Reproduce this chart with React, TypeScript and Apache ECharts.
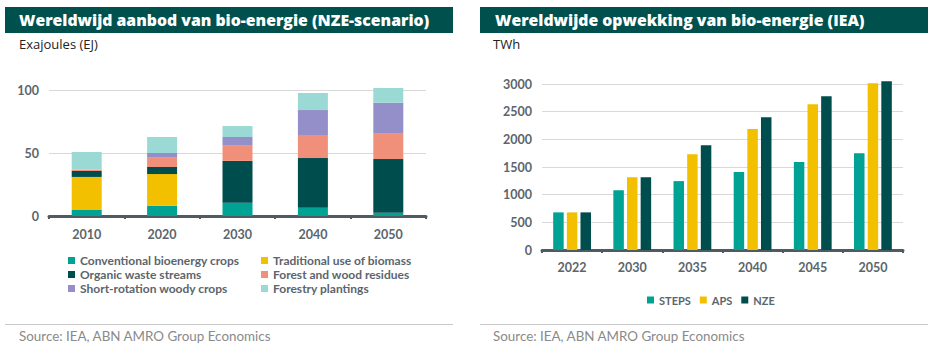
import React, { useEffect, useRef } from "react";
import * as echarts from "echarts";

const supplyYears = ["2010", "2020", "2030", "2040", "2050"];
const conventionalCrops = [4.8, 8.2, 10.6, 6.6, 2.6];
const traditionalBiomass = [26.2, 25.1, 0, 0, 0];
const organicWaste = [4.7, 5.6, 33.1, 39.4, 42.6];
const forestResidues = [1.1, 7.4, 12.1, 18.3, 20.1];
const shortRotation = [0, 3.7, 6.9, 19.8, 24.6];
const forestryPlantings = [14.0, 12.7, 8.7, 13.5, 11.7];
const supplyTicks = [0, 50, 100];

const genYears = ["2022", "2030", "2035", "2040", "2045", "2050"];
const steps = [680, 1080, 1245, 1410, 1590, 1750];
const aps = [680, 1315, 1730, 2185, 2635, 3015];
const nze = [680, 1315, 1895, 2400, 2780, 3050];

const C_TEAL = "#00A294";
const C_YELLOW = "#F3C000";
const C_DARK = "#004D4D";
const C_SALMON = "#F0907A";
const C_PURPLE = "#948FC8";
const C_LIGHT = "#9BDAD4";
const HEADER = "#00504E";
const AXIS = "#4F5B62";
const LABEL = "#5B656C";
const FONT = "Lato, 'Open Sans', sans-serif";
const OPEN = "'Open Sans', sans-serif";

export default function App() {
  const ref = useRef<HTMLDivElement>(null);
  useEffect(() => {
    if (!ref.current) return;
    const chart = echarts.init(ref.current, null, { renderer: "svg" });
    const axisLabel = { color: LABEL, fontFamily: FONT, fontWeight: "bold", fontSize: 12.5 };
    const xAxisCommon = {
      type: "category",
      axisLine: { lineStyle: { color: AXIS, width: 3 } },
      axisTick: { show: true, length: 3, lineStyle: { color: AXIS, width: 2 } },
      splitLine: { show: false },
    };
    const yAxisCommon = {
      type: "value",
      axisLine: { show: false },
      axisTick: { show: false },
      splitLine: { lineStyle: { color: "#D9D9D9", width: 1 } },
    };
    const leftSeries = [
      ["Conventional bioenergy crops", conventionalCrops, C_TEAL],
      ["Traditional use of biomass", traditionalBiomass, C_YELLOW],
      ["Organic waste streams", organicWaste, C_DARK],
      ["Forest and wood residues", forestResidues, C_SALMON],
      ["Short-rotation woody crops", shortRotation, C_PURPLE],
      ["Forestry plantings", forestryPlantings, C_LIGHT],
    ].map(([name, data, color]) => ({
      name,
      type: "bar",
      stack: "supply",
      xAxisIndex: 0,
      yAxisIndex: 0,
      barWidth: 30,
      clip: false,
      data,
      itemStyle: { color },
    }));
    const rightSeries = [
      ["STEPS", steps, C_TEAL],
      ["APS", aps, C_YELLOW],
      ["NZE", nze, C_DARK],
    ].map(([name, data, color]) => ({
      name,
      type: "bar",
      xAxisIndex: 1,
      yAxisIndex: 1,
      barWidth: 10.5,
      barGap: "30%",
      clip: false,
      data,
      itemStyle: { color },
    }));
    const legendText = { color: LABEL, fontFamily: FONT, fontWeight: "bold", fontSize: 12, lineHeight: 12 };
    const plain = (v: number) => String(v);
    chart.setOption({
      animation: false,
      textStyle: { fontFamily: FONT },
      grid: [
        { left: 49, right: 513, top: 90, bottom: 135 },
        { left: 542, right: 36, top: 84, bottom: 101 },
      ],
      xAxis: [
        { ...xAxisCommon, gridIndex: 0, data: supplyYears, axisLabel: { ...axisLabel, margin: 12 } },
        { ...xAxisCommon, gridIndex: 1, data: genYears, axisLabel: { ...axisLabel, margin: 11 } },
      ],
      yAxis: [
        {
          ...yAxisCommon,
          gridIndex: 0,
          min: supplyTicks[0],
          max: supplyTicks[supplyTicks.length - 1],
          interval: 50,
          axisLabel: { ...axisLabel, margin: 10, formatter: plain },
        },
        {
          ...yAxisCommon,
          gridIndex: 1,
          min: 0,
          max: 3000,
          interval: 500,
          axisLabel: { ...axisLabel, margin: 10, formatter: plain },
        },
      ],
      legend: [
        {
          orient: "vertical",
          left: 63,
          top: 249.5,
          itemWidth: 7,
          itemHeight: 7,
          itemGap: 2,
          icon: "rect",
          textStyle: legendText,
          data: ["Conventional bioenergy crops", "Organic waste streams", "Short-rotation woody crops"],
        },
        {
          orient: "vertical",
          left: 256,
          top: 249.5,
          itemWidth: 7,
          itemHeight: 7,
          itemGap: 2,
          icon: "rect",
          textStyle: legendText,
          data: ["Traditional use of biomass", "Forest and wood residues", "Forestry plantings"],
        },
        {
          orient: "horizontal",
          left: 642,
          top: 289,
          itemWidth: 7,
          itemHeight: 7,
          itemGap: 9,
          icon: "rect",
          textStyle: { ...legendText, fontSize: 11 },
          data: ["STEPS", "APS", "NZE"],
        },
      ],
      series: [...leftSeries, ...rightSeries],
      graphic: [
        { type: "rect", shape: { x: 5, y: 7, width: 448, height: 26 }, style: { fill: HEADER }, silent: true },
        { type: "rect", shape: { x: 480, y: 7, width: 448, height: 26 }, style: { fill: HEADER }, silent: true },
        {
          type: "text", x: 19, y: 20,
          style: { text: "Wereldwijd aanbod van bio-energie (NZE-scenario)", fill: "#FFFFFF", font: `800 15.8px ${OPEN}`, textVerticalAlign: "middle" },
        },
        {
          type: "text", x: 495, y: 20,
          style: { text: "Wereldwijde opwekking van bio-energie (IEA)", fill: "#FFFFFF", font: `800 15.8px ${OPEN}`, textVerticalAlign: "middle" },
        },
        { type: "text", x: 19, y: 44, style: { text: "Exajoules (EJ)", fill: "#222222", font: `13px ${OPEN}`, textVerticalAlign: "middle" } },
        { type: "text", x: 493, y: 44, style: { text: "TWh", fill: "#222222", font: `13px ${OPEN}`, textVerticalAlign: "middle" } },
        { type: "line", shape: { x1: 5, y1: 324.5, x2: 453, y2: 324.5 }, style: { stroke: "#C8C8C8", lineWidth: 1 } },
        { type: "line", shape: { x1: 480, y1: 324.5, x2: 928, y2: 324.5 }, style: { stroke: "#C8C8C8", lineWidth: 1 } },
        { type: "text", x: 19, y: 336, style: { text: "Source: IEA, ABN AMRO Group Economics", fill: "#8A8A8A", font: `13.4px ${FONT}`, textVerticalAlign: "middle" } },
        { type: "text", x: 493, y: 336, style: { text: "Source: IEA, ABN AMRO Group Economics", fill: "#8A8A8A", font: `13.4px ${FONT}`, textVerticalAlign: "middle" } },
      ],
    });
    return () => chart.dispose();
  }, []);
  return (
    <div
      ref={ref}
      style={{ position: "absolute", left: 0, top: 0, width: 939, height: 351, background: "#FFFFFF" }}
    />
  );
}
